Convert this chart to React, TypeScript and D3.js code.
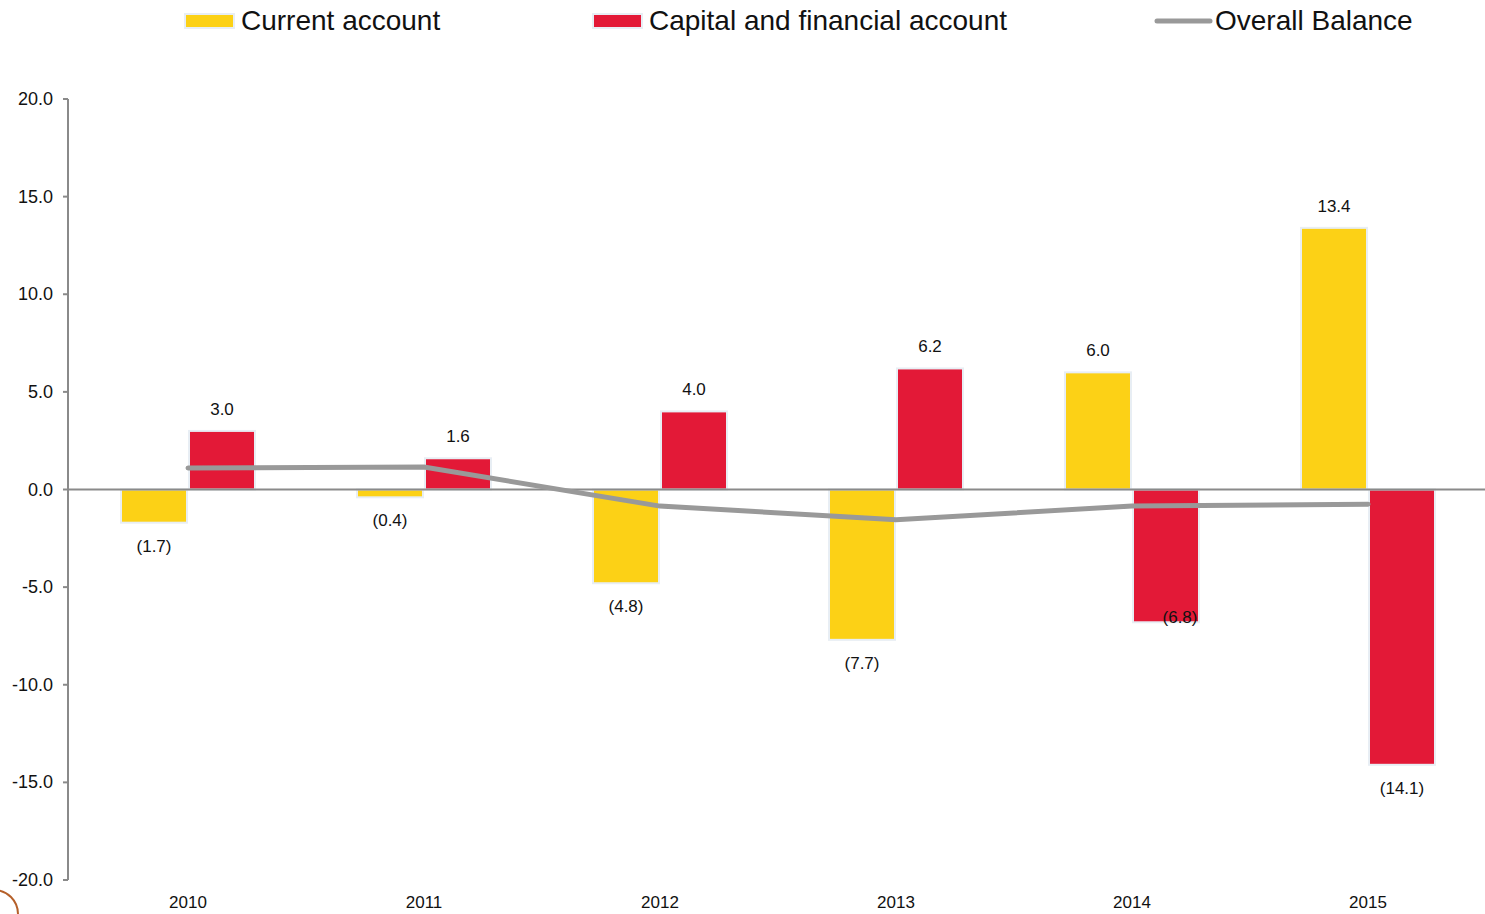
import React, { useRef, useEffect } from 'react';
import * as d3 from 'd3';

const years = ['2010', '2011', '2012', '2013', '2014', '2015'];
const currentAccount = [-1.7, -0.4, -4.8, -7.7, 6.0, 13.4];
const capitalAccount = [3.0, 1.6, 4.0, 6.2, -6.8, -14.1];
const overallBalance = [1.1, 1.15, -0.85, -1.55, -0.85, -0.75];
const yTicks = [20, 15, 10, 5, 0, -5, -10, -15, -20];

const YELLOW = '#FCD116';
const RED = '#E31937';
const GRAY = '#999999';
const AXIS = '#8a8a8a';

const fmt = (v: number) => (v < 0 ? `(${Math.abs(v).toFixed(1)})` : v.toFixed(1));

const App = () => {
  const ref = useRef<SVGSVGElement>(null);

  useEffect(() => {
    const svg = d3.select(ref.current);
    svg.selectAll('*').remove();
    const W = 1485;
    const H = 914;
    svg.attr('width', W).attr('height', H);

    const x = d3.scaleBand().domain(years).range([70, 1486]).padding(0);
    const y = d3.scaleLinear().domain([-20, 20]).range([880, 99]);
    const barW = 66;
    const font = 'Liberation Sans, Arial, sans-serif';

    // y axis
    svg.append('line')
      .attr('x1', 68).attr('x2', 68)
      .attr('y1', y(20)).attr('y2', y(-20))
      .attr('stroke', AXIS).attr('stroke-width', 2);
    yTicks.forEach((t) => {
      svg.append('line')
        .attr('x1', 63).attr('x2', 68)
        .attr('y1', y(t)).attr('y2', y(t))
        .attr('stroke', AXIS).attr('stroke-width', 2);
      svg.append('text')
        .attr('x', 53).attr('y', y(t) + 6)
        .attr('text-anchor', 'end')
        .attr('font-family', font).attr('font-size', 18)
        .attr('fill', '#111')
        .text(t.toFixed(1));
    });

    // bars
    const g = svg.append('g');
    years.forEach((yr, i) => {
      const cx = x(yr)! + x.bandwidth() / 2;
      const pairs = [
        { v: currentAccount[i], color: YELLOW, x0: cx - barW - 1 },
        { v: capitalAccount[i], color: RED, x0: cx + 1 },
      ];
      pairs.forEach((p) => {
        g.append('rect')
          .attr('x', p.x0)
          .attr('y', Math.min(y(p.v), y(0)))
          .attr('width', barW)
          .attr('height', Math.abs(y(p.v) - y(0)))
          .attr('fill', p.color)
          .attr('stroke', '#e8eef4')
          .attr('stroke-width', 2);
        let lx = p.x0 + barW / 2;
        let ly = p.v >= 0 ? y(p.v) - 16 : y(p.v) + 29;
        // the 2014 capital label sits inside the bar end in the source
        if (yr === '2014' && p.color === RED) {
          lx += 14;
          ly = y(p.v) + 1;
        }
        svg.append('text')
          .attr('x', lx).attr('y', ly)
          .attr('text-anchor', 'middle')
          .attr('font-family', font).attr('font-size', 17)
          .attr('fill', '#111')
          .text(fmt(p.v));
      });
    });

    // zero line
    svg.append('line')
      .attr('x1', 68).attr('x2', W)
      .attr('y1', y(0)).attr('y2', y(0))
      .attr('stroke', AXIS).attr('stroke-width', 2);

    // overall balance line
    const line = d3.line<number>()
      .x((_, i) => x(years[i])! + x.bandwidth() / 2)
      .y((d) => y(d));
    svg.append('path')
      .datum(overallBalance)
      .attr('fill', 'none')
      .attr('stroke', GRAY)
      .attr('stroke-width', 5)
      .attr('stroke-linecap', 'round')
      .attr('d', line);

    // x labels
    years.forEach((yr) => {
      svg.append('text')
        .attr('x', x(yr)! + x.bandwidth() / 2).attr('y', 908)
        .attr('text-anchor', 'middle')
        .attr('font-family', font).attr('font-size', 17)
        .attr('fill', '#111')
        .text(yr);
    });

    // legend
    const legend = [
      { label: 'Current account', color: YELLOW, x: 185, type: 'rect' },
      { label: 'Capital and financial account', color: RED, x: 593, type: 'rect' },
      { label: 'Overall Balance', color: GRAY, x: 1157, type: 'line' },
    ];
    legend.forEach((l) => {
      if (l.type === 'rect') {
        svg.append('rect')
          .attr('x', l.x).attr('y', 14).attr('width', 49).attr('height', 14)
          .attr('fill', l.color).attr('stroke', '#e8eef4').attr('stroke-width', 2);
      } else {
        svg.append('line')
          .attr('x1', l.x).attr('x2', l.x + 53).attr('y1', 21).attr('y2', 21)
          .attr('stroke', l.color).attr('stroke-width', 5).attr('stroke-linecap', 'round');
      }
      svg.append('text')
        .attr('x', l.x + (l.type === 'rect' ? 56 : 58)).attr('y', 30)
        .attr('font-family', font).attr('font-size', 28)
        .attr('fill', '#111')
        .text(l.label);
    });

    // partial logo in bottom-left corner
    svg.append('circle')
      .attr('cx', -6).attr('cy', 914).attr('r', 24)
      .attr('fill', 'none').attr('stroke', '#b5602a').attr('stroke-width', 2);
  }, []);

  return <svg ref={ref} style={{ position: 'absolute', left: 0, top: 0 }}></svg>;
};

export default App;
